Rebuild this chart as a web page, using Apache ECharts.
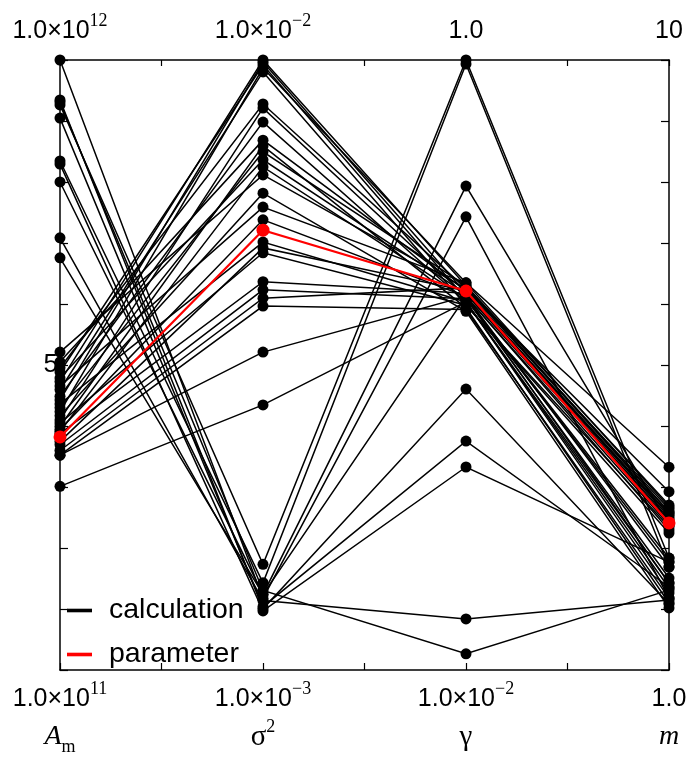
<!DOCTYPE html>
<html>
<head>
<meta charset="utf-8">
<script src="https://cdn.jsdelivr.net/npm/echarts@6/dist/echarts.min.js"></script>
<style>
  html, body { margin: 0; padding: 0; background: #fff; }
  #chart { width: 692px; height: 759px; }
</style>
</head>
<body>
<div id="chart"></div>
<script>
// Parallel-coordinate axes: A_m, sigma^2, gamma, m (all logarithmic)
const dimensions = ['A_m', 'sigma2', 'gamma', 'm'];
const axisMin = [1e11, 1e-3, 1e-2, 1.0];
const axisMax = [1e12, 1e-2, 1.0, 10];
const topTickLabels = ['1.0×10{sup|12}', '1.0×10{sup|−2}', '1.0', '10'];
const bottomTickLabels = ['1.0×10{sup|11}', '1.0×10{sup|−3}', '1.0×10{sup|−2}', '1.0'];
const axisTitles = ['{it|A}{sub|m}', '{gr|σ}{sup|2}', '{gr|γ}', '{it|m}'];

// One entry per calculation run
const amValues = [
  8.44e11, 6.83e11, 6.31e11, 1.0e12, 8.60e11, 8.03e11, 6.75e11, 5.11e11, 8.53e11, 4.74e11,
  2.97e11, 2.77e11, 3.08e11, 2.65e11, 2.88e11, 3.13e11, 2.57e11, 2.81e11, 3.20e11, 2.51e11,
  2.69e11, 3.01e11, 2.46e11, 3.32e11, 2.61e11, 2.92e11, 2.48e11, 2.73e11, 2.37e11, 2.54e11,
  2.44e11, 2.34e11, 2.29e11, 2.25e11, 2.25e11, 2.0e11
];
const sigma2Values = [
  1.49e-3, 1.39e-3, 1.33e-3, 1.31e-3, 1.26e-3, 1.27e-3, 1.25e-3, 1.30e-3, 1.35e-3, 1.33e-3,
  1.0e-2, 9.92e-3, 9.81e-3, 9.70e-3, 9.56e-3, 8.47e-3, 8.34e-3, 7.91e-3, 7.39e-3, 7.23e-3,
  7.07e-3, 6.86e-3, 6.68e-3, 6.48e-3, 6.05e-3, 5.74e-3, 5.47e-3, 5.03e-3, 4.92e-3, 4.83e-3,
  4.33e-3, 4.20e-3, 4.07e-3, 3.95e-3, 3.32e-3, 2.72e-3
];
const gammaValues = [
  1.0, 0.970, 0.386, 0.306, 0.0834, 0.0563, 0.0463, 0.0147, 0.0113, 0.168,
  0.182, 0.172, 0.165, 0.186, 0.157, 0.178, 0.168, 0.161, 0.175, 0.154,
  0.182, 0.171, 0.165, 0.178, 0.150, 0.186, 0.168, 0.161, 0.175, 0.157,
  0.172, 0.165, 0.179, 0.152, 0.168, 0.161
];
const mValues = [
  1.526, 1.475, 1.729, 1.312, 1.283, 1.368, 1.503, 1.302, 1.352, 1.389,
  1.816, 1.768, 1.415, 2.15, 1.716, 1.836, 1.697, 1.337, 1.802, 1.288,
  1.864, 1.755, 1.526, 1.96, 1.264, 1.85, 1.729, 1.363, 1.781, 1.677,
  1.795, 1.503, 1.816, 1.312, 1.475, 1.389
];

// Reference parameter set
const paramValues = [2.41e11, 5.26e-3, 0.1748, 1.742];

const calcLines = amValues.map((a, i) => [a, sigma2Values[i], gammaValues[i], mValues[i]]);

const W = 692, H = 759;
const plot = { left: 60, right: 23, top: 60, bottom: 89 };
const plotWidth = W - plot.left - plot.right;
const sans = 'Liberation Sans';
const serif = 'Liberation Serif';
const black = '#000000';
const red = '#ff0000';

const labelRich = {
  sup: { fontFamily: serif, fontSize: 18, lineHeight: 23, verticalAlign: 'top', color: black },
  sub: { fontFamily: serif, fontSize: 18, lineHeight: 26, verticalAlign: 'bottom', color: black },
  it: { fontFamily: serif, fontSize: 28, fontStyle: 'italic', lineHeight: 38, color: black },
  gr: { fontFamily: serif, fontSize: 29, lineHeight: 38, color: black }
};

const frameAxisCommon = {
  type: 'value',
  gridIndex: 0,
  axisLine: { onZero: false, lineStyle: { color: black, width: 1.5 } },
  splitLine: { show: false }
};

const hide = () => ({ show: false });

// Grid 0 is the frame; grids 1..4 are thin strips, one per dimension, whose log axes place the dots
const grids = [{ left: plot.left, right: plot.right, top: plot.top, bottom: plot.bottom, show: false }];
dimensions.forEach((d, i) => {
  grids.push({
    left: plot.left + i * plotWidth / 3 - 10,
    width: 20,
    top: plot.top,
    bottom: plot.bottom,
    show: false
  });
});

const xAxes = [
  Object.assign({}, frameAxisCommon, {
    position: 'bottom', min: 0, max: 3, interval: 0.5,
    axisTick: { inside: true, length: 7, lineStyle: { color: black, width: 1.2 } },
    axisLabel: {
      margin: 10,
      color: black,
      fontFamily: sans,
      fontSize: 25,
      lineHeight: 38,
      showMinLabel: true,
      showMaxLabel: true,
      hideOverlap: false,
      formatter: v => Number.isInteger(v) ? bottomTickLabels[v] + '\n' + axisTitles[v] : '',
      rich: labelRich
    }
  }),
  Object.assign({}, frameAxisCommon, {
    position: 'top', min: 0, max: 3, interval: 0.5,
    axisTick: { inside: true, length: 6, lineStyle: { color: black, width: 1.2 } },
    axisLabel: {
      margin: 10,
      color: black,
      fontFamily: sans,
      fontSize: 25,
      lineHeight: 38,
      showMinLabel: true,
      showMaxLabel: true,
      hideOverlap: false,
      formatter: v => Number.isInteger(v) ? topTickLabels[v] : '',
      rich: labelRich
    }
  })
];
const yAxes = [
  Object.assign({}, frameAxisCommon, {
    position: 'left', min: 0, max: 1, interval: 0.1,
    axisTick: { inside: true, length: 8, lineStyle: { color: black, width: 1.2 } },
    axisLabel: {
      margin: 2,
      color: black,
      fontFamily: sans,
      fontSize: 26,
      formatter: v => Math.abs(v - 0.5) < 1e-9 ? '5' : ''
    }
  }),
  Object.assign({}, frameAxisCommon, {
    position: 'right', min: 0, max: 1, interval: 0.1,
    axisTick: { inside: true, length: 8, lineStyle: { color: black, width: 1.2 } },
    axisLabel: hide()
  })
];
dimensions.forEach((d, i) => {
  xAxes.push({
    type: 'value', gridIndex: i + 1, min: -1, max: 1,
    axisLine: hide(), axisTick: hide(), axisLabel: hide(), splitLine: hide()
  });
  yAxes.push({
    type: 'log', logBase: 10, gridIndex: i + 1, min: axisMin[i], max: axisMax[i],
    axisLine: hide(), axisTick: hide(), axisLabel: hide(), splitLine: hide()
  });
});

const dotSeries = [];
dimensions.forEach((d, i) => {
  dotSeries.push({
    type: 'scatter',
    name: 'calc-' + d,
    xAxisIndex: i + 2,
    yAxisIndex: i + 2,
    data: calcLines.map(l => [0, l[i]]),
    symbol: 'circle',
    symbolSize: 11,
    itemStyle: { color: black, opacity: 1 },
    clip: false,
    silent: true,
    z: 3
  });
});
dimensions.forEach((d, i) => {
  dotSeries.push({
    type: 'scatter',
    name: 'param-' + d,
    xAxisIndex: i + 2,
    yAxisIndex: i + 2,
    data: [[0, paramValues[i]]],
    symbol: 'circle',
    symbolSize: 13,
    itemStyle: { color: red, opacity: 1 },
    clip: false,
    silent: true,
    z: 5
  });
});

const option = {
  animation: false,
  backgroundColor: '#ffffff',
  textStyle: { fontFamily: sans },
  grid: grids,
  xAxis: xAxes,
  yAxis: yAxes,
  parallel: {
    left: plot.left, right: plot.right, top: plot.top, bottom: plot.bottom,
    layout: 'horizontal'
  },
  // The parallel axes only route the lines; the visible frame and labels come from grid 0
  parallelAxis: dimensions.map((d, i) => ({
    dim: i,
    type: 'log',
    logBase: 10,
    min: axisMin[i],
    max: axisMax[i],
    name: '',
    axisLine: hide(),
    axisTick: hide(),
    axisLabel: { show: false, formatter: () => '', color: 'rgba(0,0,0,0)', fontSize: 1 },
    splitLine: hide()
  })),
  legend: {
    orient: 'vertical',
    left: 62,
    top: 590,
    icon: 'rect',
    itemWidth: 23,
    itemHeight: 1.6,
    itemGap: 13,
    selectedMode: false,
    textStyle: { fontFamily: sans, fontSize: 28.5, lineHeight: 31, color: black, padding: [0, 0, 0, 13] },
    data: [
      { name: 'calculation', itemStyle: { color: black } },
      { name: 'parameter', itemStyle: { color: red } }
    ]
  },
  series: [
    {
      type: 'line',
      xAxisIndex: 0,
      yAxisIndex: 0,
      data: [],
      silent: true
    },
    {
      type: 'parallel',
      name: 'calculation',
      color: black,
      lineStyle: { color: black, width: 1.5, opacity: 1 },
      emphasis: { disabled: true },
      silent: true,
      z: 2,
      data: calcLines
    },
    {
      type: 'parallel',
      name: 'parameter',
      color: red,
      lineStyle: { color: red, width: 2.2, opacity: 1 },
      emphasis: { disabled: true },
      silent: true,
      z: 4,
      data: [paramValues]
    }
  ].concat(dotSeries)
};

const chart = echarts.init(document.getElementById('chart'), null, { renderer: 'canvas', width: W, height: H });
chart.setOption(option);
</script>
</body>
</html>
